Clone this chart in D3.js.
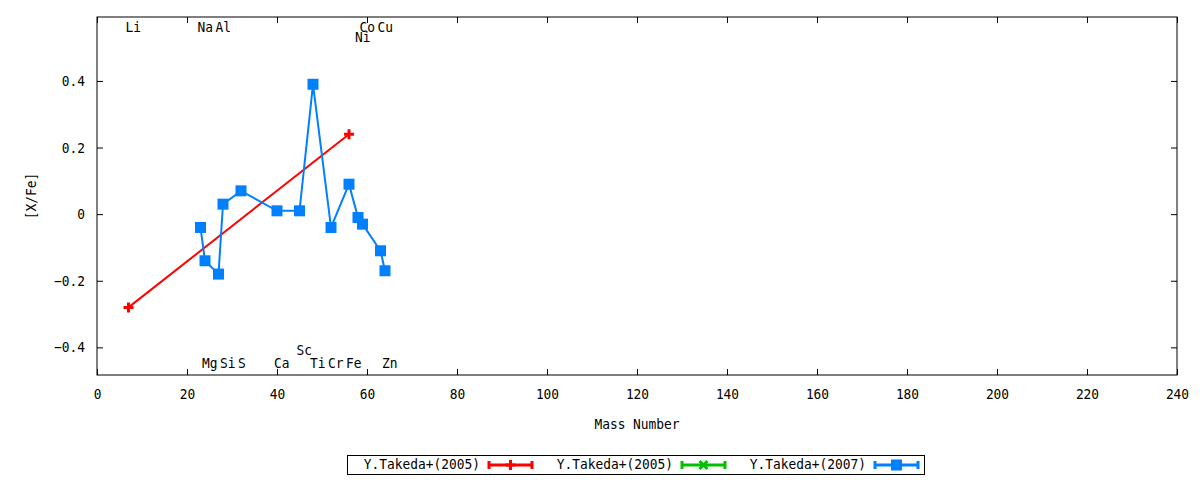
<!DOCTYPE html>
<html>
<head>
<meta charset="utf-8">
<script src="https://cdn.jsdelivr.net/npm/d3@7"></script>
<style>
  body { margin: 0; background: #fff; }
  text { font-family: "DejaVu Sans Mono", monospace; font-size: 14px; fill: #000; }
</style>
</head>
<body>
<div id="chart"></div>
<script>
"use strict";

/* data */
var takeda2005Mass = [7, 56];
var takeda2005Val = [-0.28, 0.24];
var takeda2007Mass = [23, 24, 27, 28, 32, 40, 45, 48, 52, 56, 58, 59, 63, 64];
var takeda2007Val = [-0.04, -0.14, -0.18, 0.03, 0.07, 0.01, 0.01, 0.39, -0.04, 0.09, -0.01, -0.03, -0.11, -0.17];
var elemNames = ["Li", "Na", "Al", "Co", "Cu", "Ni", "Mg", "Si", "S", "Ca", "Sc", "Ti", "Cr", "Fe", "Zn"];
var elemMass = [7, 23, 27, 59, 63, 58, 24, 28, 32, 40, 45, 48, 52, 56, 64];
var elemLabelY = [0.56, 0.56, 0.56, 0.56, 0.56, 0.53, -0.45, -0.45, -0.45, -0.45, -0.41, -0.45, -0.45, -0.45, -0.45];
var xTicks = [0, 20, 40, 60, 80, 100, 120, 140, 160, 180, 200, 220, 240];
var yTicks = [-0.4, -0.2, 0, 0.2, 0.4];
var legendNames = ["Y.Takeda+(2005)", "Y.Takeda+(2005)", "Y.Takeda+(2007)"];

var colors = {
  red: "#ff0000",
  green: "#00c000",
  blue: "#0080ff"
};

var g = {};
g.width = 1200;
g.height = 480;
g.left = 97;
g.right = 1177;
g.top = 17;
g.bottom = 375;
g.squeeze = 0.92; // the original font is a bit narrower than DejaVu Sans Mono

g.svg = d3.select("#chart").append("svg")
  .attr("width", g.width)
  .attr("height", g.height);

// text placed at (tx, ty), squeezed horizontally around that point
var addText = function(parent, tx, ty, str, anchor, rotate) {
  var tr = "translate(" + tx + "," + ty + ")" + (rotate ? " rotate(" + rotate + ")" : "") + " scale(" + g.squeeze + ",1)";
  return parent.append("text")
    .attr("transform", tr)
    .attr("text-anchor", anchor || "start")
    .attr("dominant-baseline", "middle")
    .text(str);
};

var x = d3.scaleLinear().domain([0, 240]).range([g.left, g.right]);
var y = d3.scaleLinear().domain([-0.483, 0.592]).range([g.bottom, g.top]);

/* axes: ticks drawn inward, mirrored on top and right */
var tickLen = 6;
var axisBottom = g.svg.append("g")
  .attr("transform", "translate(0," + g.bottom + ")")
  .call(d3.axisBottom(x).tickValues(xTicks).tickSizeInner(-tickLen).tickSizeOuter(0).tickPadding(14).tickFormat(d3.format("d")));
var axisTop = g.svg.append("g")
  .attr("transform", "translate(0," + g.top + ")")
  .call(d3.axisTop(x).tickValues(xTicks).tickSizeInner(-tickLen).tickSizeOuter(0).tickFormat(""));
var axisLeft = g.svg.append("g")
  .attr("transform", "translate(" + g.left + ",0)")
  .call(d3.axisLeft(y).tickValues(yTicks).tickSizeInner(-tickLen).tickSizeOuter(0).tickPadding(12)
    .tickFormat(function(d) { return d === 0 ? "0" : d3.format(".1f")(d); }));
var axisRight = g.svg.append("g")
  .attr("transform", "translate(" + g.right + ",0)")
  .call(d3.axisRight(y).tickValues(yTicks).tickSizeInner(-tickLen).tickSizeOuter(0).tickFormat(""));

[axisBottom, axisTop, axisLeft, axisRight].forEach(function(a) {
  a.select(".domain").remove();
  a.selectAll("line").attr("stroke", "#000");
  a.selectAll("text")
    .attr("font-family", "DejaVu Sans Mono, monospace")
    .attr("font-size", 14)
    .attr("fill", "#000")
    .each(function() {
      var t = d3.select(this);
      var tx = +t.attr("x") || 0;
      t.attr("x", tx / g.squeeze).attr("transform", "scale(" + g.squeeze + ",1)");
    });
});

g.svg.append("rect")
  .attr("x", g.left)
  .attr("y", g.top)
  .attr("width", g.right - g.left)
  .attr("height", g.bottom - g.top)
  .attr("fill", "none")
  .attr("stroke", "#000")
  .attr("stroke-width", 1);

/* axis titles */
addText(g.svg, (g.left + g.right) / 2, 425, "Mass Number", "middle");
addText(g.svg, 32, (g.top + g.bottom) / 2, "[X/Fe]", "middle", -90);

/* element labels */
var labels = g.svg.append("g");
elemNames.forEach(function(name, i) {
  addText(labels, x(elemMass[i]) - 3, y(elemLabelY[i]), name, "start");
});

/* markers */
var plusPath = function(s) {
  return "M" + (-s) + ",0H" + s + "M0," + (-s) + "V" + s;
};
var crossPath = function(s) {
  return "M" + (-s) + "," + (-s) + "L" + s + "," + s + "M" + (-s) + "," + s + "L" + s + "," + (-s);
};

var line = d3.line()
  .x(function(d) { return x(d[0]); })
  .y(function(d) { return y(d[1]); });

/* Takeda 2005 (red) */
var red = d3.zip(takeda2005Mass, takeda2005Val);
g.svg.append("path")
  .datum(red)
  .attr("d", line)
  .attr("fill", "none")
  .attr("stroke", colors.red)
  .attr("stroke-width", 2);
g.svg.append("g").selectAll("path")
  .data(red)
  .enter()
  .append("path")
    .attr("transform", function(d) { return "translate(" + x(d[0]) + "," + y(d[1]) + ")"; })
    .attr("d", plusPath(5))
    .attr("stroke", colors.red)
    .attr("stroke-width", 3);

/* Takeda 2007 (blue) */
var blue = d3.zip(takeda2007Mass, takeda2007Val);
g.svg.append("path")
  .datum(blue)
  .attr("d", line)
  .attr("fill", "none")
  .attr("stroke", colors.blue)
  .attr("stroke-width", 2);
g.svg.append("g").selectAll("rect")
  .data(blue)
  .enter()
  .append("rect")
    .attr("x", function(d) { return x(d[0]) - 5.5; })
    .attr("y", function(d) { return y(d[1]) - 5.5; })
    .attr("width", 11)
    .attr("height", 11)
    .attr("fill", colors.blue);

/* legend */
var legend = g.svg.append("g");
legend.append("rect")
  .attr("x", 347.5)
  .attr("y", 455.5)
  .attr("width", 577)
  .attr("height", 19)
  .attr("fill", "#fff")
  .attr("stroke", "#000");

var legendColors = [colors.red, colors.green, colors.blue];
legendNames.forEach(function(name, i) {
  var tx = 480 + i * 193;
  var ly = 465;
  var c = legendColors[i];
  addText(legend, tx, ly, name, "end");
  var x0 = tx + 9, x1 = tx + 52, xm = (x0 + x1) / 2;
  legend.append("path")
    .attr("d", "M" + x0 + "," + ly + "H" + x1 + "M" + x0 + "," + (ly - 4) + "V" + (ly + 4) + "M" + x1 + "," + (ly - 4) + "V" + (ly + 4))
    .attr("stroke", c)
    .attr("stroke-width", 3)
    .attr("fill", "none");
  if (i === 0) {
    legend.append("path")
      .attr("transform", "translate(" + xm + "," + ly + ")")
      .attr("d", plusPath(5))
      .attr("stroke", c)
      .attr("stroke-width", 3);
  } else if (i === 1) {
    legend.append("path")
      .attr("transform", "translate(" + xm + "," + ly + ")")
      .attr("d", crossPath(4))
      .attr("stroke", c)
      .attr("stroke-width", 3);
  } else {
    legend.append("rect")
      .attr("x", xm - 5.5)
      .attr("y", ly - 5.5)
      .attr("width", 11)
      .attr("height", 11)
      .attr("fill", c);
  }
});
</script>
</body>
</html>
